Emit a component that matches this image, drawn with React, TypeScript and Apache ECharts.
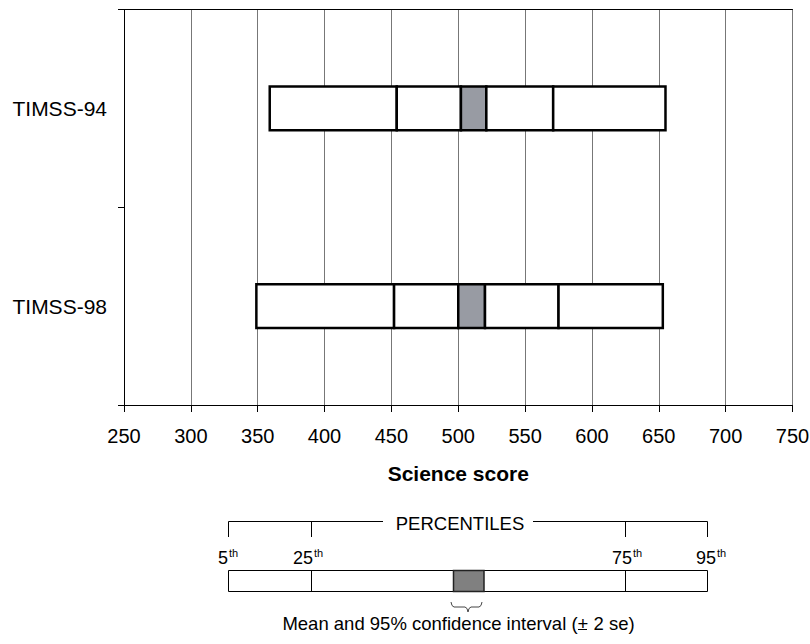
import React, { useEffect, useRef } from "react";
import * as echarts from "echarts";

// ---- data ----
const categories = ["TIMSS-94", "TIMSS-98"];
const pct5 = [359, 349];
const pct25 = [454, 452];
const ciLow = [502, 500];
const ciHigh = [521, 520];
const pct75 = [571, 575];
const pct95 = [655, 653];
const xMin = 250;
const xMax = 750;
const xInterval = 50;
const axisTitle = "Science score";
const legendTitle = "PERCENTILES";
const legendNumbers = ["5", "25", "75", "95"];
const legendSuffix = "th";
const legendNote = "Mean and 95% confidence interval (+ 2 se)";

const FONT = "'Liberation Sans', Arial, Helvetica, sans-serif";
const GREY = "#989ba3";
const LEGEND_GREY = "#808080";

export default function App() {
  const ref = useRef<HTMLDivElement>(null);

  useEffect(() => {
    if (!ref.current) return;
    const chart = echarts.init(ref.current, undefined, { renderer: "svg" });

    const data = categories.map((_, i) => [
      i,
      pct5[i],
      pct25[i],
      ciLow[i],
      ciHigh[i],
      pct75[i],
      pct95[i],
    ]);

    const txt = (
      text: string,
      x: number,
      y: number,
      size: number,
      align: string,
      weight: string = "normal"
    ) => ({
      type: "text",
      x,
      y,
      style: {
        text,
        fontSize: size,
        fontFamily: FONT,
        fontWeight: weight,
        fill: "#000",
        align,
        verticalAlign: "middle",
      },
    });
    const ln = (x1: number, y1: number, x2: number, y2: number, w = 1) => ({
      type: "line",
      shape: { x1, y1, x2, y2 },
      style: { stroke: "#000", lineWidth: w },
    });

    // legend layout (pixel positions, not data)
    const Lx = [228.5, 311.5, 625.5, 707.5];
    const numRight = [228, 313, 632, 716];
    const graphic: any[] = [
      // bracket
      { type: "polyline", shape: { points: [[228.5, 537], [228.5, 521.5], [383, 521.5]] }, style: { stroke: "#000", lineWidth: 1, fill: null } },
      { type: "polyline", shape: { points: [[533, 521.5], [707.5, 521.5], [707.5, 537]] }, style: { stroke: "#000", lineWidth: 1, fill: null } },
      ln(311.5, 521.5, 311.5, 537),
      ln(625.5, 521.5, 625.5, 537),
      txt(legendTitle, 460, 523.5, 18.5, "center"),
      // legend box
      { type: "rect", shape: { x: 228.5, y: 570.5, width: 479, height: 21 }, style: { fill: "#fff", stroke: "#000", lineWidth: 1 } },
      ln(311.5, 570.5, 311.5, 591.5),
      ln(625.5, 570.5, 625.5, 591.5),
      { type: "rect", shape: { x: 453.5, y: 570.5, width: 30.5, height: 21 }, style: { fill: LEGEND_GREY, stroke: "#222", lineWidth: 1.5 } },
      // brace
      {
        type: "polyline",
        shape: {
          points: [
            [451, 602], [452, 605.5], [454, 607], [465, 607], [467, 608.5], [468, 612],
            [469, 608.5], [471, 607], [479, 607], [481, 605.5], [482, 602],
          ],
        },
        style: { stroke: "#444", lineWidth: 1, fill: null },
      },
      txt(legendNote, 458.5, 623, 18.5, "center"),
      ln(578, 629.5, 587, 629.5, 1),
    ];
    legendNumbers.forEach((n, i) => {
      graphic.push(txt(n, numRight[i], 557.5, 18, "right"));
      graphic.push(txt(legendSuffix, numRight[i] + 1, 553, 11, "left"));
    });
    void Lx;

    const option: any = {
      animation: false,
      textStyle: { fontFamily: FONT },
      grid: {
        left: 124,
        right: 17.5,
        top: 9.5,
        bottom: 239,
        containLabel: false,
        outerBoundsMode: "none",
      },
      xAxis: [
        {
          type: "value",
          position: "bottom",
          min: xMin,
          max: xMax,
          interval: xInterval,
          axisLine: { show: true, lineStyle: { color: "#000", width: 1 } },
          axisTick: { show: true, length: 7, lineStyle: { color: "#000" } },
          axisLabel: { color: "#000", fontSize: 20, margin: 21, fontFamily: FONT },
          splitLine: { show: true, lineStyle: { color: "#777", width: 1 } },
          name: axisTitle,
          nameLocation: "middle",
          nameGap: 58,
          nameTextStyle: { color: "#000", fontSize: 21, fontWeight: "bold", fontFamily: FONT },
        },
        {
          type: "value",
          position: "top",
          min: xMin,
          max: xMax,
          interval: xInterval,
          axisLine: { show: true, onZero: false, lineStyle: { color: "#000", width: 1 } },
          axisTick: { show: false },
          axisLabel: { show: false },
          splitLine: { show: false },
        },
      ],
      yAxis: {
        type: "category",
        data: categories,
        inverse: true,
        axisLine: { show: true, lineStyle: { color: "#000", width: 1 } },
        axisTick: { show: true, length: 6, lineStyle: { color: "#000" } },
        axisLabel: { color: "#000", fontSize: 21, margin: 17, fontFamily: FONT },
        splitLine: { show: false },
      },
      series: [
        {
          type: "custom",
          xAxisIndex: 0,
          yAxisIndex: 0,
          data,
          encode: { x: [1, 2, 3, 4, 5, 6], y: 0 },
          renderItem: (params: any, api: any) => {
            const cat = api.value(0);
            const vals = [1, 2, 3, 4, 5, 6].map((k) => api.value(k));
            const band = api.size([0, 1])[1];
            const h = band * 0.22;
            const cy = api.coord([vals[0], cat])[1];
            const children: any[] = [];
            for (let i = 0; i < 5; i++) {
              const x0 = api.coord([vals[i], cat])[0];
              const x1 = api.coord([vals[i + 1], cat])[0];
              children.push({
                type: "rect",
                shape: { x: x0, y: cy - h / 2, width: x1 - x0, height: h },
                style: { fill: i === 2 ? GREY : "#fff", stroke: "#000", lineWidth: 2.5 },
              });
            }
            return { type: "group", children };
          },
        },
      ],
      graphic,
    };

    chart.setOption(option);
    return () => chart.dispose();
  }, []);

  return (
    <div
      ref={ref}
      style={{ position: "fixed", left: 0, top: 0, width: 810, height: 644, background: "#fff" }}
    />
  );
}
